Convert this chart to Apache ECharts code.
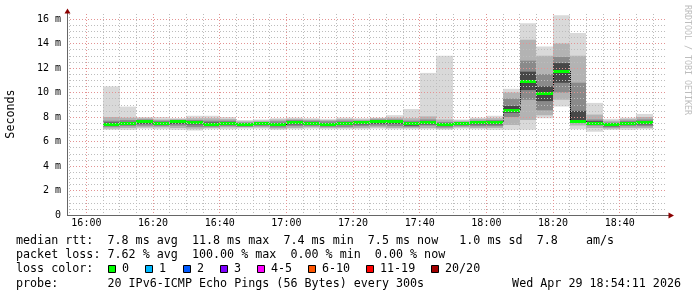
<!DOCTYPE html>
<html><head><meta charset="utf-8">
<script src="https://cdn.jsdelivr.net/npm/echarts@6/dist/echarts.min.js"></script>
<style>html,body{margin:0;padding:0;background:#fff}#c{width:697px;height:297px}</style>
</head><body><div id="c"></div>
<script>
// ---- data (ms) ----
const slotStarts = ['16:05','16:10','16:15','16:20','16:25','16:30','16:35','16:40','16:45','16:50','16:55','17:00','17:05','17:10','17:15','17:20','17:25','17:30','17:35','17:40','17:45','17:50','17:55','18:00','18:05','18:10','18:15','18:20','18:25','18:30','18:35','18:40','18:45'];
const pingMin = [6.95,6.95,7.05,7.0,6.95,6.9,7.0,7.0,7.05,7.05,6.95,7.0,7.05,7.0,7.0,7.0,7.05,7.0,7.0,7.0,6.95,7.05,7.0,6.95,6.95,6.95,7.9,8.85,7.0,6.8,6.95,6.95,7.0];
const pingP10 = [7.05,7.1,7.15,7.15,7.1,7.05,7.1,7.15,7.15,7.15,7.05,7.1,7.15,7.1,7.1,7.1,7.15,7.1,7.1,7.1,7.05,7.15,7.1,7.1,7.35,7.75,8.15,9.4,7.3,7.1,7.05,7.1,7.1];
const pingP25 = [7.2,7.25,7.3,7.25,7.3,7.2,7.2,7.25,7.2,7.25,7.15,7.25,7.25,7.2,7.2,7.25,7.3,7.25,7.2,7.3,7.15,7.25,7.25,7.25,8.0,9.4,8.55,10.0,7.5,7.3,7.15,7.25,7.25];
const pingP40 = [7.3,7.4,7.45,7.35,7.45,7.4,7.3,7.35,7.28,7.4,7.27,7.4,7.4,7.3,7.35,7.4,7.45,7.45,7.3,7.4,7.27,7.35,7.4,7.4,8.35,10.2,9.3,10.8,7.6,7.4,7.25,7.4,7.4];
const medianRtt = [7.4,7.5,7.6,7.5,7.6,7.55,7.4,7.5,7.35,7.5,7.35,7.55,7.5,7.4,7.45,7.55,7.6,7.6,7.45,7.55,7.35,7.45,7.55,7.55,8.55,10.9,9.95,11.75,7.65,7.5,7.4,7.5,7.55];
const pingP60 = [7.55,7.6,7.7,7.6,7.7,7.65,7.55,7.6,7.45,7.55,7.5,7.65,7.6,7.5,7.55,7.65,7.7,7.7,7.55,7.65,7.45,7.5,7.6,7.65,8.9,11.7,10.5,12.4,8.5,7.65,7.45,7.6,7.65];
const pingP75 = [7.7,7.75,7.8,7.7,7.75,7.75,7.7,7.7,7.55,7.6,7.65,7.75,7.7,7.65,7.7,7.7,7.8,7.8,7.7,7.8,7.6,7.6,7.7,7.75,9.5,12.6,11.5,12.9,10.8,7.8,7.55,7.7,7.8];
const pingP90 = [8.0,7.95,7.9,7.8,7.85,7.9,7.9,7.85,7.65,7.7,7.8,7.85,7.8,7.75,7.85,7.8,7.9,7.95,7.9,8.05,7.8,7.7,7.85,7.9,10.0,14.3,13.0,14.0,13.0,8.2,7.7,7.85,8.0];
const pingMax = [10.5,8.85,8.0,8.0,7.9,8.1,8.1,8.0,7.75,7.8,7.9,7.95,7.9,7.85,7.95,7.9,7.95,8.15,8.65,11.6,13.0,7.8,7.95,8.1,10.3,15.65,13.75,16.3,14.85,9.15,7.85,7.95,8.25];
const xTickLabels = ['16:00','16:20','16:40','17:00','17:20','17:40','18:00','18:20','18:40'];
const yTickValues = [0,2,4,6,8,10,12,14,16];
const lossLabels = ['0','1','2','3','4-5','6-10','11-19','20/20'];
const lossColors = ['#00ff00','#00b8ff','#0059ff','#7e00ff','#ff00ff','#ff5500','#ff0000','#a10000'];
const statLines = [
  'median rtt:  7.8 ms avg  11.8 ms max  7.4 ms min  7.5 ms now   1.0 ms sd  7.8    am/s',
  'packet loss: 7.62 % avg  100.00 % max  0.00 % min  0.00 % now',
  'loss color:',
  'probe:       20 IPv6-ICMP Echo Pings (56 Bytes) every 300s'
];
const stampText = 'Wed Apr 29 18:54:11 2026';

// ---- helpers ----
const toMin = s => { const p = s.split(':'); return (+p[0]) * 60 + (+p[1]); };
const xMin = 15 * 60 + 54 + 11 / 60, xMax = 18 * 60 + 54 + 11 / 60;
const majorX = xTickLabels.map(toMin);
const minorX = []; for (let m = 955; m <= 1130; m += 5) minorX.push(m);
const minorY = []; for (let v = 0.5; v <= 16.01; v += 0.5) if (Math.abs(v / 2 - Math.round(v / 2)) > 1e-6) minorY.push(v);
const majorYLines = yTickValues.filter(v => v > 0);
const mono = '"DejaVu Sans Mono", monospace';
const slotData = slotStarts.map((s, i) => [toMin(s), pingMin[i], pingP10[i], pingP25[i], pingP40[i], medianRtt[i], pingP60[i], pingP75[i], pingP90[i], pingMax[i]]);

const bands = [[1, 9, '#d9d9d9'], [2, 8, '#b3b3b3'], [3, 7, '#8a8a8a'], [4, 6, '#474747']];

const chart = echarts.init(document.getElementById('c'), null, {renderer: 'canvas'});

const graphics = [];
// arrows and axis lines
graphics.push({type: 'polygon', shape: {points: [[67.5, 8.5], [64.5, 13.5], [70.5, 13.5]]}, style: {fill: '#8b0000'}, z: 100});
graphics.push({type: 'polygon', shape: {points: [[674, 215.5], [668.5, 212.5], [668.5, 218.5]]}, style: {fill: '#8b0000'}, z: 100});
graphics.push({type: 'line', shape: {x1: 67, y1: 215.5, x2: 669, y2: 215.5}, style: {stroke: '#666', lineWidth: 1}, z: 99});
graphics.push({type: 'line', shape: {x1: 67.5, y1: 13, x2: 67.5, y2: 215}, style: {stroke: '#666', lineWidth: 1}, z: 99});
// y title
graphics.push({type: 'text', x: 11, y: 114, rotation: Math.PI / 2,
  style: {text: 'Seconds', font: '11.7px ' + mono, fill: '#000', textAlign: 'center', textVerticalAlign: 'middle'}});
// watermark
graphics.push({type: 'text', x: 687, y: 5, rotation: -Math.PI / 2,
  style: {text: 'RRDTOOL / TOBI OETIKER', font: '8.3px ' + mono, fill: '#bdbdbd', textAlign: 'left', textVerticalAlign: 'middle'}});
// stat lines
const lineY = [241, 255.3, 269.3, 283.7];
statLines.forEach((t, i) => graphics.push({type: 'text', x: 16, y: lineY[i],
  style: {text: t, font: '11.7px ' + mono, fill: '#000', textAlign: 'left', textVerticalAlign: 'middle'}}));
graphics.push({type: 'text', x: 681, y: lineY[3],
  style: {text: stampText, font: '11.7px ' + mono, fill: '#000', textAlign: 'right', textVerticalAlign: 'middle'}});
// loss color legend
const sqX = [108, 145, 182.5, 220, 256.5, 307.5, 366, 431];
lossLabels.forEach((lab, i) => {
  const sx = Math.round(sqX[i]);
  graphics.push({type: 'rect', shape: {x: sx + 0.5, y: 265.5, width: 7, height: 7}, style: {fill: lossColors[i], stroke: '#000', lineWidth: 1}});
  graphics.push({type: 'text', x: sx + 14, y: lineY[2],
    style: {text: lab, font: '11.7px ' + mono, fill: '#000', textAlign: 'left', textVerticalAlign: 'middle'}});
});

const gridLine = (c) => ({show: true, lineStyle: {color: c, width: 1, type: [1, 2]}});

const option = {
  animation: false,
  backgroundColor: '#fff',
  grid: {left: 67, right: 30, top: 14, bottom: 82, containLabel: false},
  xAxis: [
    {type: 'value', position: 'bottom', offset: 0, min: xMin, max: xMax, z: 5,
      axisLine: {show: false}, axisTick: {show: false, customValues: minorX},
      axisLabel: {show: false}, splitLine: gridLine('#bdbdbd')},
    {type: 'value', position: 'bottom', offset: 0, min: xMin, max: xMax, z: 6,
      axisLine: {show: false}, axisTick: {show: false, customValues: majorX},
      axisLabel: {show: true, customValues: majorX, margin: 3, color: '#000', fontFamily: mono, fontSize: 10,
        formatter: v => xTickLabels[majorX.indexOf(Math.round(v))] || ''},
      splitLine: gridLine('#e39393')}
  ],
  yAxis: [
    {type: 'value', position: 'left', offset: 0, min: 0, max: 16.41, z: 5,
      axisLine: {show: false}, axisTick: {show: false, customValues: minorY},
      axisLabel: {show: false}, splitLine: gridLine('#bdbdbd')},
    {type: 'value', position: 'left', offset: 0, min: 0, max: 16.41, z: 6,
      axisLine: {show: false}, axisTick: {show: false, customValues: majorYLines},
      axisLabel: {show: true, customValues: yTickValues, margin: 6, color: '#000', fontFamily: mono, fontSize: 10,
        formatter: v => (v === 0 ? '0' : v + ' m')},
      splitLine: gridLine('#e39393')}
  ],
  graphic: {elements: graphics},
  series: [{
    type: 'custom', xAxisIndex: 0, yAxisIndex: 0, z: 1,
    encode: {x: 0, y: [1, 9]},
    data: slotData,
    renderItem: function (params, api) {
      const i = params.dataIndex;
      const t = api.value(0);
      const x0 = Math.round(api.coord([t, 0])[0]);
      const x1 = Math.round(api.coord([t + 5, 0])[0]);
      const yOf = v => api.coord([t, v])[1];
      const children = [];
      bands.forEach(b => {
        const yl = yOf(api.value(b[0])), yh = yOf(api.value(b[1]));
        children.push({type: 'rect', shape: {x: x0, y: yh, width: x1 - x0, height: yl - yh}, style: {fill: b[2]}});
      });
      const ym = yOf(api.value(5));
      if (i > 0) {
        const yp = yOf(medianRtt[i - 1]);
        children.push({type: 'line', shape: {x1: x0 + 0.5, y1: yp, x2: x0 + 0.5, y2: ym}, style: {stroke: '#000', lineWidth: 1, lineDash: [1, 1]}});
      }
      children.push({type: 'rect', shape: {x: x0, y: Math.round(ym - 1.5), width: x1 - x0, height: 3}, style: {fill: lossColors[0]}});
      return {type: 'group', children: children};
    }
  }]
};
chart.setOption(option);
</script>
</body></html>
